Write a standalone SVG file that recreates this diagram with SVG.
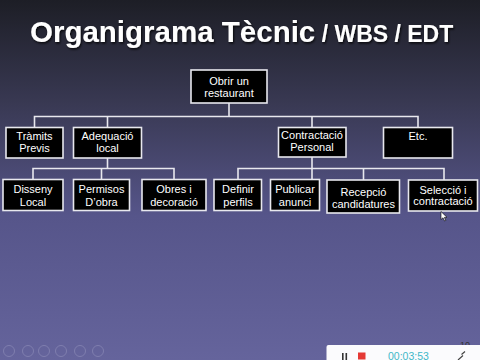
<svg xmlns="http://www.w3.org/2000/svg" width="480" height="360" viewBox="0 0 480 360">
<defs>
<linearGradient id="bg" x1="0" y1="0" x2="0" y2="1">
<stop offset="0" stop-color="#1d1e26"/>
<stop offset="0.3" stop-color="#3a3a55"/>
<stop offset="0.6" stop-color="#56558a"/>
<stop offset="1" stop-color="#65649c"/>
</linearGradient>
<filter id="sh" x="-5%" y="-20%" width="110%" height="140%">
<feDropShadow dx="1" dy="1.5" stdDeviation="0.8" flood-color="#000" flood-opacity="0.8"/>
</filter>
</defs>
<style>
.box{fill:#000;stroke:#e8e8ee;stroke-width:1.6}
.t{font-family:"Liberation Sans",Arial,sans-serif;fill:#fff;text-anchor:middle;font-size:11px}
.c{fill:none;stroke:#e8e8ee;stroke-width:1.6}
.ctl{fill:none;stroke:#7f7eae;stroke-width:1}
</style>
<rect x="0" y="0" width="480" height="360" fill="url(#bg)"/>
<g id="title" filter="url(#sh)" font-family="Liberation Sans,Arial,sans-serif" font-weight="bold" fill="#fff">
<text x="30" y="42" font-size="29.5px">Organigrama Tècnic<tspan font-size="23px"> / WBS / EDT</tspan></text>
</g>
<g id="connectors">
<path class="c" d="M229 103V116.5M34.5 127V116.5H418V127M107.5 116.5V127M312 116.5V127"/>
<path class="c" d="M107.5 158V168.5M33 179V168.5H174V179M101.5 168.5V179"/>
<path class="c" d="M312 157V168.5V179M238 179V168.5H444V180M363.5 168.5V180"/>
</g>
<g id="n-root"><rect class="box" x="191" y="70" width="76" height="33"/><text class="t" x="229" y="85" font-size="11.5px">Obrir un</text><text class="t" x="229" y="97" font-size="11.5px">restaurant</text></g>
<g id="n-tramits"><rect class="box" x="6" y="127.5" width="57" height="30.5"/><text class="t" x="34.5" y="139.5">Tràmits</text><text class="t" x="34.5" y="152">Previs</text></g>
<g id="n-adequacio"><rect class="box" x="73.5" y="127.5" width="68" height="30.5"/><text class="t" x="107.5" y="139.5">Adequació</text><text class="t" x="107.5" y="152">local</text></g>
<g id="n-contractacio"><rect class="box" x="278.5" y="127.5" width="67.5" height="29.5"/><text class="t" x="312" y="138.5" font-size="9.4px">Contractació</text><text class="t" x="312" y="150.5">Personal</text></g>
<g id="n-etc"><rect class="box" x="383.5" y="127.5" width="69" height="30.5"/><text class="t" x="418" y="140">Etc.</text></g>
<g id="n-disseny"><rect class="box" x="3" y="179.5" width="60" height="31"/><text class="t" x="33" y="193">Disseny</text><text class="t" x="33" y="205.5">Local</text></g>
<g id="n-permisos"><rect class="box" x="73.5" y="179.5" width="56" height="31"/><text class="t" x="101.5" y="193">Permisos</text><text class="t" x="101.5" y="205.5">D’obra</text></g>
<g id="n-obres"><rect class="box" x="142" y="179.5" width="64" height="31"/><text class="t" x="174" y="193">Obres i</text><text class="t" x="174" y="205.5">decoració</text></g>
<g id="n-definir"><rect class="box" x="214" y="179.5" width="47.5" height="31"/><text class="t" x="238" y="193">Definir</text><text class="t" x="238" y="205.5">perfils</text></g>
<g id="n-publicar"><rect class="box" x="270.5" y="179.5" width="49" height="31"/><text class="t" x="295" y="193">Publicar</text><text class="t" x="295" y="205.5">anunci</text></g>
<g id="n-recepcio"><rect class="box" x="327" y="180" width="72.5" height="33"/><text class="t" x="363.5" y="196">Recepció</text><text class="t" x="363.5" y="208">candidatures</text></g>
<g id="n-seleccio"><rect class="box" x="408.5" y="180" width="69" height="31"/><text class="t" x="443" y="193.5">Selecció i</text><text class="t" x="443" y="205">contractació</text></g>
<path d="M441 211.5V219.5L443 217.8L444.6 221L445.8 220.4L444.3 217.4H447Z" fill="#fff" stroke="#000" stroke-width="0.6"/>
<g id="controls">
<circle class="ctl" cx="9" cy="351" r="5.5"/><circle class="ctl" cx="28" cy="351" r="5.5"/><circle class="ctl" cx="44" cy="351" r="5.5"/><circle class="ctl" cx="61" cy="351" r="5.5"/><circle class="ctl" cx="80" cy="351" r="5.5"/><circle class="ctl" cx="98" cy="351" r="5.5"/>
</g>
<text x="460" y="348" font-family="Liberation Sans,Arial,sans-serif" font-size="9px" fill="#333">10</text>
<g id="recorder">
<rect x="326.5" y="345" width="160" height="20" rx="2" fill="#fbfbfd"/>
<rect x="342" y="353" width="1.6" height="7" fill="#333"/><rect x="345.5" y="353" width="1.6" height="7" fill="#333"/>
<rect x="358" y="352.5" width="7.5" height="7" fill="#e53935"/>
<text x="388" y="359.5" font-family="Liberation Sans,Arial,sans-serif" font-size="10.5px" fill="#3fb8c8">00:03:53</text>
<path d="M458 360L463 355.5M461.5 354.5L465 351.5" stroke="#444" stroke-width="1.2" fill="none"/>
</g>
</svg>
